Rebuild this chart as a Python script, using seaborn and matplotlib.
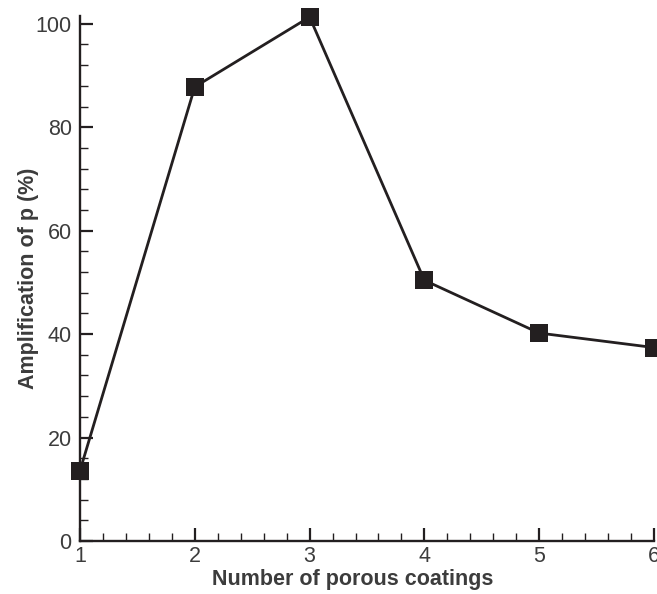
import matplotlib
matplotlib.use("Agg")
import matplotlib.pyplot as plt
from matplotlib.ticker import MultipleLocator
import pandas as pd
import seaborn as sns

coatings = [1, 2, 3, 4, 5, 6]
amplification = [13.6, 87.8, 101.3, 50.4, 40.2, 37.4]

sns.set_theme(style="ticks")
plt.rcParams["font.family"] = ["Liberation Sans", "DejaVu Sans"]

df = pd.DataFrame({"n": coatings, "amp": amplification})

fig = plt.figure(figsize=(6.57, 5.94), dpi=100)
ax = fig.add_axes([80 / 657, 53 / 594, 574 / 657, 525 / 594])

sns.lineplot(data=df, x="n", y="amp", ax=ax, color="#231f20", linewidth=2.0,
             marker="s", markersize=12.5, markeredgewidth=0,
             markerfacecolor="#231f20", clip_on=False)

ax.set_xlim(1, 6)
ax.set_ylim(0, 101.5)
ax.xaxis.set_major_locator(MultipleLocator(1))
ax.xaxis.set_minor_locator(MultipleLocator(0.2))
ax.yaxis.set_major_locator(MultipleLocator(20))
ax.yaxis.set_minor_locator(MultipleLocator(4))

for side in ("top", "right"):
    ax.spines[side].set_visible(False)
for side in ("left", "bottom"):
    ax.spines[side].set_linewidth(1.7)
    ax.spines[side].set_color("#231f20")

ax.tick_params(which="major", direction="in", length=9.5, width=1.6,
               color="#231f20", labelsize=15.5, labelcolor="#3c3c3c")
ax.tick_params(axis="y", which="major", pad=6)
ax.tick_params(axis="x", which="major", pad=3.5)
ax.tick_params(which="minor", direction="in", length=5.5, width=1.0,
               color="#231f20")

ax.set_xlabel("Number of porous coatings", fontsize=15.5, fontweight="bold",
              color="#3c3c3c")
ax.set_ylabel("Amplification of p (%)", fontsize=15.5, fontweight="bold",
              color="#3c3c3c")
ax.xaxis.set_label_coords(0.4756, -0.0535)
ax.yaxis.set_label_coords(-0.0714, 0.5)

fig.savefig("out.png", dpi=100)
